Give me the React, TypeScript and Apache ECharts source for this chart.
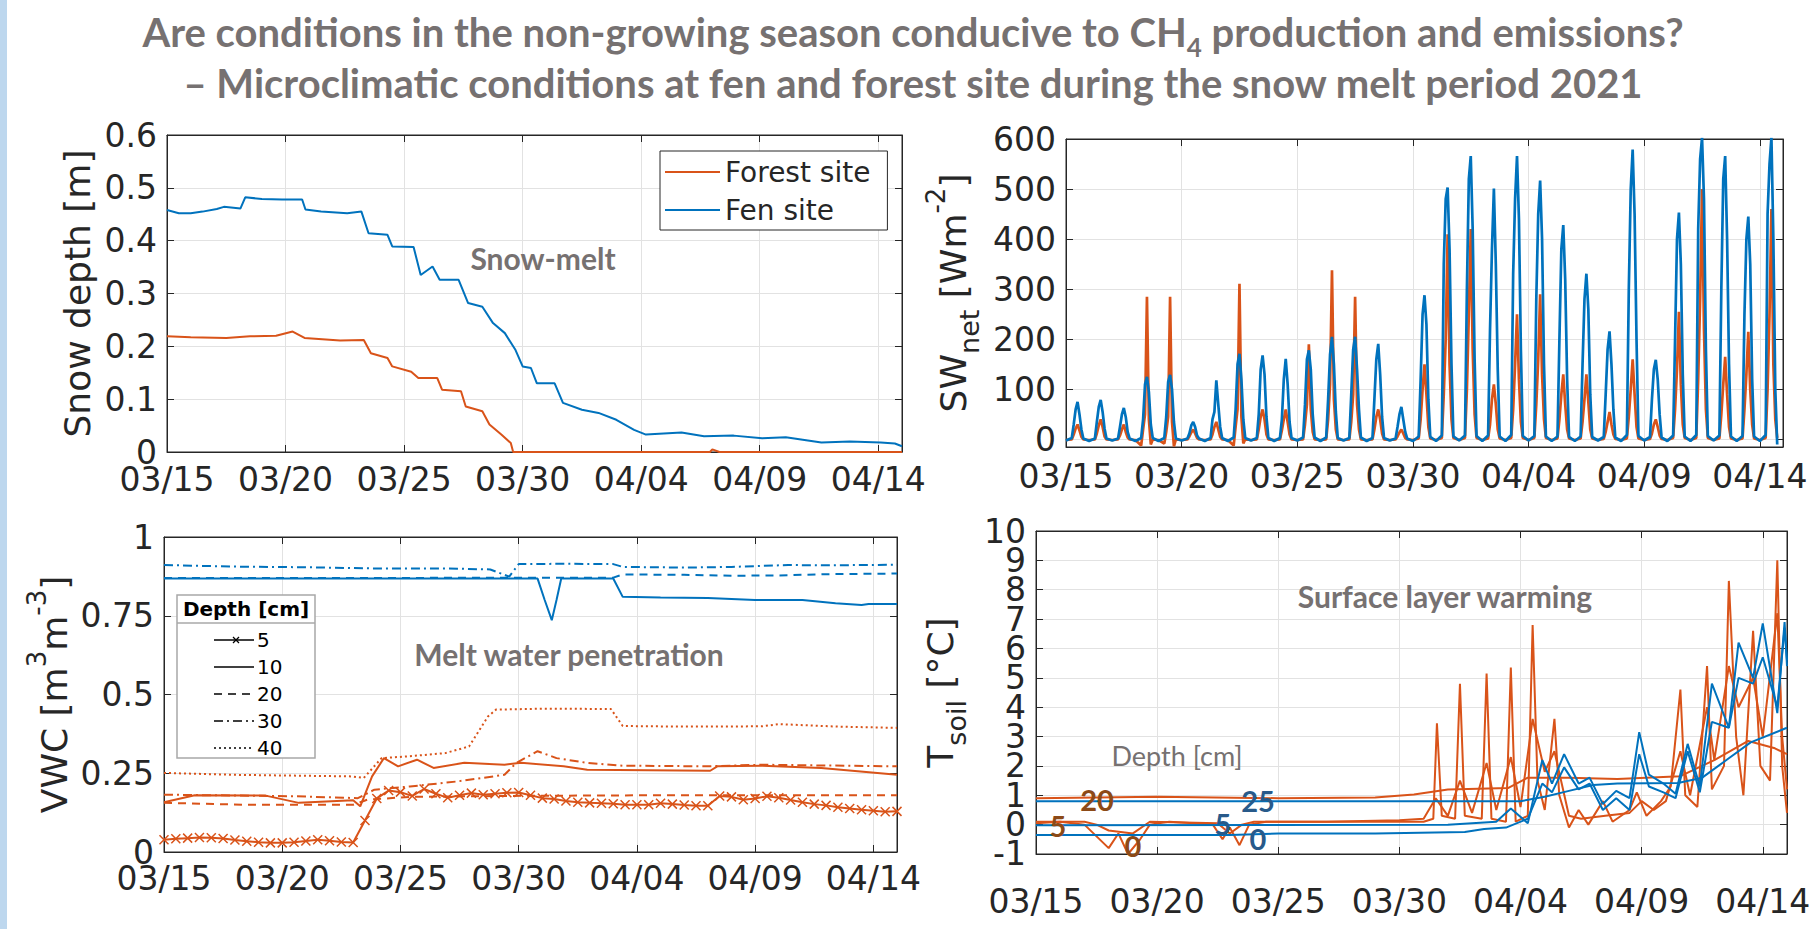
import React, { useEffect, useRef } from 'react';
import * as echarts from 'echarts';

// ---------- tick labels ----------
const dateTickLabels = ['03/15', '03/20', '03/25', '03/30', '04/04', '04/09', '04/14'];

// ---------- Snow depth [m]  ([days since 03/15 00:00, value]) ----------
const fenSnow = [
  [0, 0.458], [0.5, 0.452], [1, 0.452], [1.5, 0.455], [2.1, 0.46], [2.4, 0.464], [3.1, 0.461], [3.3, 0.482],
  [4, 0.479], [4.85, 0.478], [5.7, 0.478], [5.84, 0.459], [6.5, 0.455], [7.6, 0.452], [8.2, 0.455], [8.5, 0.414],
  [9.3, 0.411], [9.5, 0.389], [10.4, 0.388], [10.7, 0.335], [11.2, 0.351], [11.5, 0.326], [12.3, 0.326],
  [12.7, 0.282], [13.3, 0.275], [13.75, 0.244], [14.25, 0.225], [14.7, 0.193], [15.0, 0.162], [15.35, 0.159],
  [15.6, 0.13], [16.35, 0.13], [16.7, 0.093], [17.5, 0.08], [18.2, 0.074], [18.95, 0.061], [19.7, 0.042],
  [20.2, 0.033], [21.7, 0.037], [22.65, 0.03], [23.9, 0.031], [25.1, 0.026], [26.1, 0.028], [27.6, 0.018],
  [28.8, 0.02], [30.1, 0.018], [30.7, 0.016], [31, 0.011],
];
const forestSnow = [
  [0, 0.219], [1, 0.217], [2.5, 0.216], [3.5, 0.219], [4.6, 0.22], [5.3, 0.228], [5.8, 0.216], [7.3, 0.211],
  [8.3, 0.212], [8.6, 0.187], [9.3, 0.178], [9.5, 0.162], [10.3, 0.152], [10.6, 0.14], [11.4, 0.14],
  [11.6, 0.118], [12.4, 0.115], [12.6, 0.086], [13.3, 0.077], [13.6, 0.052], [14.1, 0.033], [14.5, 0.017],
  [14.6, 0], [22.9, 0], [23.0, 0.005], [23.3, 0], [31, 0],
];

// ---------- SW_net [W m-2] : one row per day, values at these hours ----------
const swHours = [0, 6, 8, 10, 12, 14, 16, 18];
const fenSW = [
  [-2, 3, 30, 60, 75, 50, 20, 2], [-3, 2, 35, 65, 79, 55, 22, 2], [-2, 2, 25, 50, 63, 45, 15, 2],
  [-3, 3, 40, 110, 125, 95, 30, 3], [-3, 3, 45, 115, 129, 100, 35, 2], [-2, 2, 12, 28, 35, 25, 8, 2],
  [-3, 3, 40, 55, 118, 70, 25, 3], [-3, 4, 60, 150, 171, 120, 40, 3], [-2, 3, 50, 140, 168, 130, 45, 3],
  [-3, 3, 40, 120, 161, 110, 35, 3], [-2, 4, 70, 160, 178, 140, 50, 4], [-3, 4, 80, 170, 205, 150, 55, 3],
  [-2, 3, 90, 180, 205, 140, 60, 4], [-3, 3, 80, 160, 191, 130, 45, 3], [-2, 2, 25, 50, 65, 40, 15, 2],
  [-3, 6, 120, 250, 288, 230, 80, 5], [-3, 8, 350, 480, 503, 380, 150, 6], [-2, 8, 300, 520, 566, 420, 160, 7],
  [-3, 8, 220, 380, 501, 350, 140, 6], [-3, 9, 330, 480, 566, 440, 180, 7], [-2, 7, 280, 450, 517, 400, 150, 6],
  [-3, 6, 200, 380, 428, 320, 120, 5], [-3, 6, 150, 280, 331, 260, 90, 5], [-2, 5, 90, 180, 216, 150, 60, 4],
  [-3, 9, 300, 500, 579, 450, 200, 7], [-2, 5, 80, 140, 159, 120, 50, 4], [-3, 8, 200, 400, 453, 350, 130, 6],
  [-3, 9, 420, 560, 603, 480, 180, 7], [-2, 8, 300, 520, 566, 400, 150, 6], [-3, 7, 250, 400, 445, 350, 120, 6],
  [-3, 9, 450, 550, 603, 400, 100, -10],
];
const forestSW = [
  [-1, 0, 10, 22, 30, 18, 5, 0], [-1, 0, 12, 28, 40, 25, 6, 0], [-1, 0, 8, 20, 30, 15, 4, 0],
  [-1, -12, 20, 50, 285, 40, -10, 0], [-1, -8, 15, 45, 285, 35, -14, 0], [-1, 0, 6, 14, 20, 12, 3, 0],
  [-1, 0, 10, 25, 35, 20, 5, 0], [-1, -12, 25, 60, 311, 45, -8, 0], [-1, 0, 20, 45, 60, 40, 10, 0],
  [-1, 0, 18, 40, 60, 35, 10, 0], [-1, 0, 30, 70, 190, 60, 15, 0], [-1, 0, 40, 110, 338, 80, 20, 0],
  [-1, 0, 35, 90, 285, 70, 20, 0], [-1, 0, 20, 45, 60, 40, 12, 0], [-1, 0, 6, 14, 20, 12, 3, 0],
  [-1, 2, 40, 100, 150, 90, 25, 2], [-1, 3, 90, 200, 410, 150, 40, 3], [-1, 3, 100, 250, 420, 180, 50, 3],
  [-1, 2, 30, 80, 110, 70, 20, 2], [-1, 3, 60, 150, 250, 120, 35, 3], [-1, 3, 70, 160, 290, 130, 40, 3],
  [-1, 2, 40, 90, 130, 70, 20, 2], [-1, 2, 35, 80, 130, 75, 20, 2], [-1, 1, 15, 35, 55, 30, 10, 1],
  [-1, 2, 45, 100, 160, 90, 25, 2], [-1, 1, 12, 30, 40, 25, 8, 1], [-1, 3, 60, 140, 255, 110, 30, 3],
  [-1, 3, 120, 280, 500, 220, 60, 3], [-1, 2, 50, 110, 165, 90, 25, 2], [-1, 2, 60, 130, 215, 100, 30, 2],
  [-1, 3, 100, 250, 460, 150, 40, 3],
];

// ---------- VWC [m3 m-3] ----------
const fenVwc10 = [
  [0, 0.868], [10, 0.868], [15.8, 0.868], [16.1, 0.8], [16.4, 0.736], [16.6, 0.8], [16.8, 0.868], [19.0, 0.868],
  [19.4, 0.81], [21, 0.808], [23, 0.806], [25, 0.8], [27, 0.8], [28.4, 0.79], [29.5, 0.784], [29.8, 0.787], [31, 0.787],
];
const fenVwc20 = [
  [0, 0.87], [5, 0.87], [10, 0.87], [15, 0.871], [19.0, 0.871], [19.4, 0.881], [22, 0.88], [24, 0.877],
  [26, 0.878], [28, 0.882], [31, 0.884],
];
const fenVwc30 = [
  [0, 0.911], [3, 0.906], [6, 0.904], [9, 0.9], [12, 0.9], [13.8, 0.897], [14.6, 0.874], [15.0, 0.914],
  [17, 0.915], [19.0, 0.914], [19.4, 0.905], [22, 0.903], [24, 0.905], [26.4, 0.911], [28, 0.91], [31, 0.912],
];
const forestVwc5Step = 0.5;
const forestVwc5 = [
  0.039, 0.042, 0.044, 0.046, 0.045, 0.043, 0.038, 0.034, 0.031, 0.029, 0.029, 0.031, 0.035, 0.039, 0.036, 0.032,
  0.03, 0.1, 0.17, 0.195, 0.19, 0.178, 0.2, 0.185, 0.172, 0.18, 0.187, 0.182, 0.185, 0.188, 0.189, 0.18,
  0.171, 0.168, 0.162, 0.158, 0.156, 0.155, 0.153, 0.15, 0.15, 0.15, 0.155, 0.152, 0.149, 0.147, 0.147, 0.178,
  0.175, 0.166, 0.17, 0.177, 0.172, 0.165, 0.158, 0.152, 0.148, 0.142, 0.138, 0.134, 0.131, 0.128, 0.129,
];
const forestVwc10 = [
  [0, 0.158], [1.3, 0.18], [4.3, 0.179], [5.7, 0.156], [8.0, 0.164], [8.3, 0.145], [8.8, 0.24], [9.3, 0.298],
  [9.9, 0.272], [10.7, 0.293], [11.4, 0.267], [12.7, 0.283], [14.4, 0.277], [15.1, 0.283], [16.9, 0.272],
  [17.9, 0.261], [23.1, 0.258], [23.4, 0.272], [25.3, 0.274], [27.8, 0.267], [31, 0.245],
];
const forestVwc20 = [
  [0, 0.156], [3.5, 0.15], [8.0, 0.15], [8.6, 0.166], [10.4, 0.175], [14.5, 0.178], [20.4, 0.18], [31, 0.18],
];
const forestVwc30 = [
  [0, 0.182], [5.5, 0.177], [8.2, 0.171], [8.9, 0.198], [10.4, 0.208], [12.4, 0.224], [14.4, 0.245],
  [14.9, 0.283], [15.8, 0.32], [16.6, 0.298], [17.9, 0.283], [19.4, 0.274], [22.9, 0.272], [25.3, 0.277], [31, 0.272],
];
const forestVwc40 = [
  [0, 0.251], [3, 0.245], [7.96, 0.24], [8.45, 0.235], [9.2, 0.298], [10.4, 0.304], [11.9, 0.314], [12.9, 0.335],
  [13.7, 0.43], [14.04, 0.452], [16, 0.455], [18.9, 0.454], [19.4, 0.4], [22, 0.398], [25.3, 0.399],
  [26, 0.406], [28.5, 0.398], [31, 0.394],
];

// ---------- T_soil [°C] ----------
const forestT0 = [
  [0, 0.05], [1, 0.1], [2, 0.0], [2.5, -0.4], [3, -0.8], [3.4, -0.3], [3.8, -1.0], [4.3, -0.5], [4.7, 0.0],
  [5.5, 0.1], [6.5, 0.05], [7.3, 0.0], [7.7, -0.5], [8.0, -0.1], [8.4, -0.7], [8.8, 0.0], [9.5, 0.1], [12, 0.1],
  [14, 0.1], [16, 0.1], [16.4, 0.2], [16.55, 3.45], [16.75, 0.3], [17.3, 0.2], [17.5, 4.8], [17.7, 0.3],
  [18.4, 0.2], [18.6, 5.15], [18.8, 0.2], [19.4, 0.1], [19.6, 5.35], [19.8, 0.1], [20.3, 0.3], [20.5, 6.8],
  [20.7, 1.5], [21.0, 0.5], [21.4, 3.6], [21.6, 1.0], [22.0, -0.1], [22.4, 0.5], [22.8, 0.0], [23.4, 0.8],
  [23.8, 0.1], [24.5, 0.5], [24.8, 1.1], [25.2, 0.3], [25.8, 0.8], [26.2, 1.3], [26.6, 4.6], [26.8, 1.0],
  [27.3, 0.6], [27.7, 5.4], [27.9, 1.2], [28.4, 2.0], [28.6, 8.3], [28.9, 3.0], [29.2, 1.0], [29.6, 6.6],
  [29.9, 2.0], [30.3, 1.5], [30.6, 9.0], [30.8, 2.0], [31, 0.4],
];
const forestT5 = [
  [0, 0.1], [2, 0.1], [2.5, 0.0], [3, -0.2], [4, -0.3], [4.7, 0.1], [7.5, 0.05], [8, -0.3], [8.5, 0.0], [9, 0.1],
  [12, 0.1], [15, 0.15], [16, 0.2], [16.5, 0.9], [17, 0.3], [17.5, 1.5], [18, 0.4], [18.6, 2.1], [19, 0.5],
  [19.6, 2.3], [20, 0.6], [20.5, 3.6], [21, 1.8], [21.4, 2.5], [22, 0.3], [22.5, 0.2], [23.5, 0.3], [24.5, 0.4],
  [25, 0.8], [25.5, 0.5], [26, 0.8], [26.6, 2.5], [27, 1.0], [27.7, 4.0], [28, 2.2], [28.6, 5.4], [29, 4.0],
  [29.6, 5.0], [30, 3.0], [30.6, 7.2], [30.8, 3.0], [31, 1.2],
];
const forestT20 = [
  [0, 0.9], [5, 0.95], [10, 0.9], [14, 0.92], [15.6, 1.03], [17, 1.2], [19.5, 1.25], [20.3, 1.6], [22, 1.6],
  [24, 1.55], [26.6, 1.65], [28, 2.2], [29.4, 2.85], [30.5, 2.6], [31, 2.4],
];
const fenT0 = [
  [0, -0.35], [8, -0.35], [10, -0.3], [14, -0.3], [17.7, -0.25], [18.5, -0.15], [19.4, -0.1], [20.3, 0.2],
  [20.9, 1.4], [21.3, 1.1], [21.8, 1.95], [22.4, 1.2], [22.85, 1.4], [23.4, 0.5], [23.95, 0.9], [24.5, 0.5],
  [24.9, 2.4], [25.3, 1.3], [25.9, 1.1], [26.4, 0.9], [26.9, 2.5], [27.4, 1.1], [27.9, 3.5], [28.6, 3.3],
  [29.0, 5.0], [29.6, 4.8], [30.0, 5.7], [30.6, 4.0], [30.9, 6.7], [31, 5.6],
];
const fenT5 = [
  [0, -0.02], [17, 0.0], [19, 0.1], [19.6, 0.55], [20.3, 0.05], [20.9, 2.2], [21.3, 1.4], [21.8, 2.4],
  [22.4, 1.4], [22.85, 1.6], [23.4, 0.7], [23.95, 1.15], [24.5, 0.9], [24.9, 3.15], [25.3, 1.7], [25.9, 1.4],
  [26.4, 1.05], [26.9, 2.75], [27.4, 1.3], [27.9, 4.8], [28.6, 3.3], [29.0, 6.2], [29.6, 5.0], [30.0, 6.85],
  [30.6, 3.8], [30.9, 6.9], [31, 5.4],
];
const fenT25 = [
  [0, 0.8], [20, 0.8], [21, 0.95], [22, 1.15], [23, 1.35], [24, 1.4], [26.5, 1.42], [27.5, 1.6], [28.5, 2.2],
  [29.5, 2.8], [31, 3.3],
];

// ---------- styling ----------
const ORANGE = '#D95319';
const BLUE = '#0072BD';
const AX = '#262626';
const GRIDC = '#e2e2e2';
const GRAY = '#767171';
const TF = 'DejaVu Sans';
const TICK_FS = 33;

const grids = [
  { left: 167, top: 135, width: 735, height: 317 },
  { left: 1066, top: 139, width: 717, height: 308 },
  { left: 164, top: 537, width: 733, height: 315 },
  { left: 1036, top: 531, width: 751, height: 323 },
];
const xLabelMargins = [17, 19, 16, 37];

const yNames = [
  '{b|Snow depth [m]}',
  '{b|SW}{s|net}{b| [Wm}{p|-2}{b|]}',
  '{b|VWC [m}{p|3}{b|m}{p|-3}{b|]}',
  '{b|T}{s|soil}{b| [°C]}',
];
const yNameGaps = [60, 83, 80, 66];

const isInt = (v: number) => Math.abs(v - Math.round(v)) < 1e-6;
const yCfgs: any[] = [
  { min: 0, max: 0.6, interval: 0.1 },
  { min: -15, max: 600, splitNumber: 6, keep: (v: number) => v % 100 === 0 },
  { min: 0, max: 1, interval: 0.25 },
  // the tiny padding keeps every integer label (-1 … 10) visible
  { min: -1.0001, max: 10.0001, splitNumber: 11, keep: isInt, showMin: false, showMax: false },
];

const nameRich = {
  b: { fontSize: 36, fontFamily: TF, color: AX, lineHeight: 60 },
  s: { fontSize: 27, fontFamily: TF, color: AX, lineHeight: 28, verticalAlign: 'bottom' },
  p: { fontSize: 26, fontFamily: TF, color: AX, lineHeight: 28, verticalAlign: 'top' },
};
const tickRich = { t: { fontSize: TICK_FS, fontFamily: TF, color: AX, lineHeight: 20 } };

function fmtNum(v: number) {
  return String(parseFloat(v.toFixed(4)));
}

function buildAxes() {
  const xAxis: any[] = [];
  const yAxis: any[] = [];
  grids.forEach((_, g) => {
    xAxis.push({
      type: 'value', gridIndex: g, min: 0, max: 31, interval: 5, position: 'bottom',
      axisLine: { show: true, onZero: false, lineStyle: { color: AX, width: 1 } },
      axisTick: { show: true, inside: true, length: 7, lineStyle: { color: AX } },
      axisLabel: {
        margin: xLabelMargins[g], rich: tickRich, hideOverlap: false,
        formatter: (v: number) => {
          if (Math.abs(v % 5) > 1e-9) return '';
          const t = dateTickLabels[Math.round(v / 5)];
          return t ? `{t|${t}}` : '';
        },
      },
      splitLine: { show: true, lineStyle: { color: GRIDC, width: 1 } },
    });
    xAxis.push({
      type: 'value', gridIndex: g, min: 0, max: 31, interval: 5, position: 'top',
      axisLine: { show: true, onZero: false, lineStyle: { color: AX, width: 1 } },
      axisTick: { show: true, inside: true, length: 7, lineStyle: { color: AX } },
      axisLabel: { show: false }, splitLine: { show: false },
    });
    const c = yCfgs[g];
    const base: any = { type: 'value', gridIndex: g, min: c.min, max: c.max };
    if (c.interval !== undefined) base.interval = c.interval;
    if (c.splitNumber !== undefined) base.splitNumber = c.splitNumber;
    yAxis.push({
      ...base, position: 'left',
      name: yNames[g], nameLocation: 'middle', nameRotate: 90, nameGap: yNameGaps[g],
      nameTextStyle: { rich: nameRich },
      axisLine: { show: true, onZero: false, lineStyle: { color: AX, width: 1 } },
      axisTick: { show: true, inside: true, length: 7, lineStyle: { color: AX } },
      axisLabel: {
        margin: 10, rich: tickRich, hideOverlap: false,
        showMaxLabel: c.showMax ?? true, showMinLabel: c.showMin ?? true,
        formatter: (v: number) => (c.keep && !c.keep(v) ? '' : `{t|${fmtNum(v)}}`),
      },
      splitLine: { show: true, lineStyle: { color: GRIDC, width: 1 } },
    });
    yAxis.push({
      ...base, position: 'right',
      axisLine: { show: true, onZero: false, lineStyle: { color: AX, width: 1 } },
      axisTick: { show: true, inside: true, length: 7, lineStyle: { color: AX } },
      axisLabel: { show: false }, splitLine: { show: false },
    });
  });
  return { xAxis, yAxis };
}

function line(name: string, g: number, data: any[], color: string, width = 2, dash: any = 'solid') {
  return {
    name, type: 'line', xAxisIndex: g * 2, yAxisIndex: g * 2, data,
    symbol: 'none', showSymbol: false, animation: false,
    lineStyle: { color, width, type: dash },
    itemStyle: { color },
  };
}

const swData = (rows: number[][]) => rows.flatMap((r, d) => r.map((v, k) => [d + swHours[k] / 24, v]));

const DASH = [8, 6];
const DASHDOT = [9, 4, 2, 4];
const DOT = [2, 3];
const XSYM = 'path://M0,0L10,10M10,0L0,10';

function gText(x: number, y: number, text: string, font: string, fill: string) {
  return {
    type: 'text', x, y, z: 60,
    style: { text, font, fill, align: 'center', verticalAlign: 'middle', textAlign: 'center', textVerticalAlign: 'middle' },
  };
}

function vwcLegend() {
  const rowsY = [640, 667, 694, 721, 748];
  const labels = ['5', '10', '20', '30', '40'];
  const dashes: any[] = [null, null, DASH, DASHDOT, DOT];
  const els: any[] = [
    { type: 'rect', shape: { x: 177, y: 595, width: 138, height: 163 }, style: { fill: '#fff', stroke: '#a8a8a8', lineWidth: 1.5 }, z: 70 },
    { type: 'line', shape: { x1: 177, y1: 623, x2: 315, y2: 623 }, style: { stroke: '#a8a8a8', lineWidth: 1.5 }, z: 71 },
    { type: 'text', x: 246, y: 609, z: 72, style: { text: 'Depth [cm]', font: 'bold 20px "DejaVu Sans"', fill: '#000', align: 'center', verticalAlign: 'middle', textAlign: 'center', textVerticalAlign: 'middle' } },
  ];
  rowsY.forEach((yy, i) => {
    els.push({ type: 'line', shape: { x1: 214, y1: yy, x2: 254, y2: yy }, style: { stroke: '#000', lineWidth: 1.5, lineDash: dashes[i] || undefined }, z: 72 });
    els.push({ type: 'text', x: 257, y: yy, z: 72, style: { text: labels[i], font: '20px "DejaVu Sans"', fill: '#000', align: 'left', verticalAlign: 'middle', textAlign: 'left', textVerticalAlign: 'middle' } });
  });
  els.push({ type: 'line', shape: { x1: 233, y1: 637, x2: 239, y2: 643 }, style: { stroke: '#000', lineWidth: 1.3 }, z: 73 });
  els.push({ type: 'line', shape: { x1: 239, y1: 637, x2: 233, y2: 643 }, style: { stroke: '#000', lineWidth: 1.3 }, z: 73 });
  return els;
}

function buildOption() {
  const { xAxis, yAxis } = buildAxes();
  const series: any[] = [
    // panel 1
    line('Forest site', 0, forestSnow, ORANGE),
    line('Fen site', 0, fenSnow, BLUE),
    // panel 2
    line('SW forest', 1, swData(forestSW), ORANGE, 2.7),
    line('SW fen', 1, swData(fenSW), BLUE, 2.7),
    // panel 3
    line('Fen 30', 2, fenVwc30, BLUE, 2, DASHDOT),
    line('Fen 20', 2, fenVwc20, BLUE, 2, DASH),
    line('Fen 10', 2, fenVwc10, BLUE),
    line('Forest 40', 2, forestVwc40, ORANGE, 2, DOT),
    line('Forest 30', 2, forestVwc30, ORANGE, 2, DASHDOT),
    line('Forest 20', 2, forestVwc20, ORANGE, 2, DASH),
    line('Forest 10', 2, forestVwc10, ORANGE),
    {
      ...line('Forest 5', 2, forestVwc5.map((v, i) => [i * forestVwc5Step, v]), ORANGE),
      symbol: XSYM, showSymbol: true, symbolSize: 9,
      itemStyle: { color: 'none', borderColor: ORANGE, borderWidth: 1.5 },
    },
    // panel 4
    line('Forest T20', 3, forestT20, ORANGE),
    line('Forest T5', 3, forestT5, ORANGE),
    line('Forest T0', 3, forestT0, ORANGE),
    line('Fen T25', 3, fenT25, BLUE),
    line('Fen T0', 3, fenT0, BLUE),
    line('Fen T5', 3, fenT5, BLUE),
  ];

  const graphic: any[] = [
    { type: 'rect', shape: { x: 0, y: 0, width: 7, height: 929 }, style: { fill: '#bdd7ee' }, z: 1 },
    {
      type: 'text', x: 913, y: 32, z: 60,
      style: {
        text: '{b|Are conditions in the non-growing season conducive to CH}{s|4}{b| production and emissions?}',
        rich: {
          b: { fontSize: 40, fontWeight: 'bold', fontFamily: 'Lato', fill: GRAY, lineHeight: 56 },
          s: { fontSize: 26, fontWeight: 'bold', fontFamily: 'Lato', fill: GRAY, lineHeight: 26, verticalAlign: 'bottom' },
        },
        align: 'center', verticalAlign: 'middle', textAlign: 'center', textVerticalAlign: 'middle',
      },
    },
    gText(913, 83, '– Microclimatic conditions at fen and forest site during the snow melt period 2021', 'bold 40px Lato', GRAY),
    gText(543, 258, 'Snow-melt', 'bold 30px Lato', GRAY),
    gText(569, 654, 'Melt water penetration', 'bold 30px Lato', GRAY),
    gText(1445, 596, 'Surface layer warming', 'bold 30px Lato', GRAY),
    gText(1177, 755, 'Depth [cm]', '27px Lato', GRAY),
    gText(1097, 799, '20', 'bold 29px Lato', '#8c4a17'),
    gText(1058, 825, '5', 'bold 29px Lato', '#8c4a17'),
    gText(1133, 845, '0', 'bold 29px Lato', '#8c4a17'),
    gText(1258, 800, '25', 'bold 29px Lato', '#285a8a'),
    gText(1223, 823, '5', 'bold 29px Lato', '#285a8a'),
    gText(1258, 838, '0', 'bold 29px Lato', '#285a8a'),
    ...vwcLegend(),
  ];

  return {
    animation: false,
    backgroundColor: '#ffffff',
    grid: grids.map((g) => ({ ...g, show: true, borderColor: AX, borderWidth: 1, backgroundColor: 'transparent' })),
    xAxis, yAxis, series, graphic,
    legend: {
      data: ['Forest site', 'Fen site'], orient: 'vertical', left: 660, top: 151,
      icon: 'rect', itemWidth: 55, itemHeight: 2, itemGap: 8, padding: [6, 17, 5, 5],
      borderColor: AX, borderWidth: 1, backgroundColor: '#fff',
      textStyle: { fontSize: 28, fontFamily: TF, color: AX, lineHeight: 30 },
      selectedMode: false,
    },
  };
}

export default function App() {
  const ref = useRef<HTMLDivElement>(null);
  useEffect(() => {
    const chart = echarts.init(ref.current!, null, { renderer: 'svg' });
    chart.setOption(buildOption() as any);
    return () => chart.dispose();
  }, []);
  return (
    <div
      ref={ref}
      style={{ position: 'absolute', left: 0, top: 0, width: 1819, height: 929, background: '#fff' }}
    />
  );
}
